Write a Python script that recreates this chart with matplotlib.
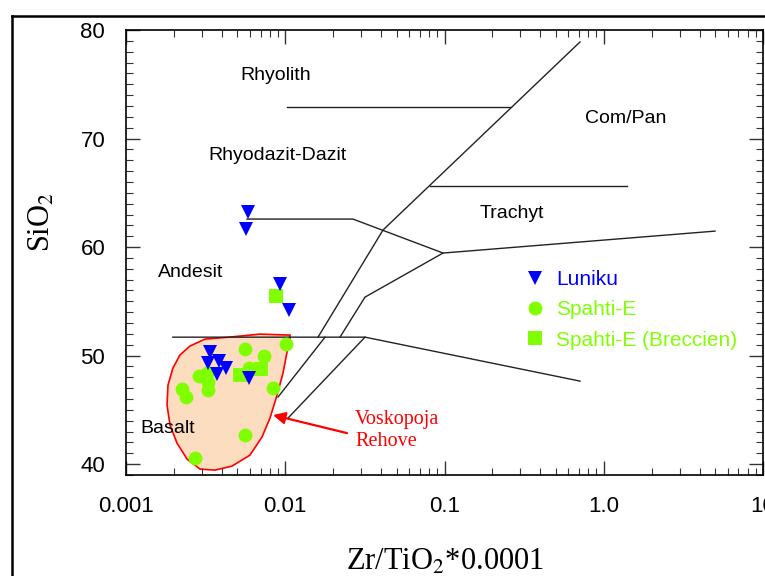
import matplotlib
matplotlib.use('Agg')
import matplotlib.pyplot as plt
from matplotlib.lines import Line2D
from matplotlib.patches import Polygon
from matplotlib.ticker import FixedLocator, FixedFormatter, LogLocator, NullFormatter, MultipleLocator

plt.rcParams['font.family'] = ['Liberation Sans', 'DejaVu Sans']
plt.rcParams['mathtext.fontset'] = 'stix'

# ---------------- data ----------------
luniku_x = [0.00583, 0.00567, 0.00927, 0.01056, 0.00337, 0.00384, 0.00327, 0.00425, 0.00373, 0.00592]
luniku_y = [63.2, 61.7, 56.6, 54.2, 50.3, 49.5, 49.3, 48.9, 48.3, 47.9]

spahti_x = [0.00559, 0.00735, 0.01011, 0.00592, 0.00287, 0.00323, 0.00327, 0.00327,
            0.00225, 0.00238, 0.00838, 0.00559, 0.00271]
spahti_y = [50.6, 50.0, 51.1, 48.9, 48.1, 48.4, 47.6, 46.8,
            46.9, 46.2, 47.0, 42.7, 40.6]

breccien_x = [0.0052, 0.00704, 0.00875]
breccien_y = [48.2, 48.8, 55.5]

# Voskopoja-Rehove field outline
field_x = [0.01071, 0.00694, 0.0045, 0.00313, 0.00252, 0.00218, 0.00197, 0.001835, 0.00181,
           0.00189, 0.00209, 0.00242, 0.00292, 0.00362, 0.00463, 0.0060, 0.00714, 0.00802,
           0.00888, 0.00968, 0.01026, 0.01071]
field_y = [51.89, 51.98, 51.71, 51.52, 50.88, 50.05, 48.85, 47.28, 45.44,
           43.59, 41.94, 40.46, 39.54, 39.45, 39.82, 40.83, 42.49, 44.24,
           46.36, 48.39, 50.32, 51.43]

# classification boundaries (Winchester & Floyd)
boundaries = [
    ([0.01026, 0.2578], [72.9, 72.9]),
    ([0.7096, 0.0411, 0.01606], [78.9, 61.57, 51.7]),
    ([0.01777, 0.009006], [51.7, 46.18]),
    ([0.0811, 1.40], [65.62, 65.62]),
    ([0.00575, 0.02663, 0.0979, 4.996], [62.58, 62.58, 59.45, 61.47]),
    ([0.0979, 0.03168, 0.02207], [59.45, 55.39, 51.7]),
    ([0.00197, 0.03168, 0.7096], [51.7, 51.7, 47.65]),
    ([0.03168, 0.0104], [51.7, 44.24]),
]

field_names = ["Rhyolith", "Rhyodazit-Dazit", "Andesit", "Basalt", "Com/Pan", "Trachyt"]
field_name_x = [0.0052, 0.00327, 0.001588, 0.001224, 0.7624, 0.1671]
field_name_y = [75.85, 68.48, 57.70, 43.32, 71.89, 63.13]

xticks = [0.001, 0.01, 0.1, 1.0, 10]
xticklabels = ["0.001", "0.01", "0.1", "1.0", "10"]
yticks = [40, 50, 60, 70, 80]

BLUE = '#0000FF'
GREEN = '#80FF00'
RED = '#FF0000'

# ---------------- figure ----------------
fig = plt.figure(figsize=(7.65, 5.76), dpi=100)
ax = fig.add_axes([126/765, 101/576, 637/765, 445/576])
ax.set_xscale('log')
ax.set_xlim(0.001, 10)
ax.set_ylim(39, 80)

# field polygon
poly = Polygon(list(zip(field_x, field_y)), closed=True, facecolor='#FDDDBF',
               edgecolor=RED, linewidth=1.2, zorder=1)
ax.add_patch(poly)

for bx, by in boundaries:
    ax.plot(bx, by, color='#222222', linewidth=1.0, zorder=2)

for name, tx, ty in zip(field_names, field_name_x, field_name_y):
    ax.text(tx, ty, name, ha='left', va='center', fontsize=14, color='black', zorder=3)

# arrow + annotation
ax.annotate('', xy=(0.00838, 44.52), xytext=(0.02442, 42.86),
            arrowprops=dict(arrowstyle='-|>', color=RED, lw=1.6, mutation_scale=18,
                            shrinkA=0, shrinkB=0), zorder=4)
ax.text(0.02742, 44.15, 'Voskopoja', ha='left', va='center', color=RED,
        fontsize=14.5, family=['Liberation Serif', 'DejaVu Serif'])
ax.text(0.02742, 42.12, 'Rehove', ha='left', va='center', color=RED,
        fontsize=14.5, family=['Liberation Serif', 'DejaVu Serif'])

# data points
ax.plot(spahti_x, spahti_y, linestyle='none', marker='o', markersize=10,
        color=GREEN, markeredgewidth=0, label='Spahti-E', zorder=5)
ax.plot(breccien_x, breccien_y, linestyle='none', marker='s', markersize=10,
        color=GREEN, markeredgewidth=0, label='Spahti-E (Breccien)', zorder=5)
ax.plot(luniku_x, luniku_y, linestyle='none', marker='v', markersize=10.5,
        color=BLUE, markeredgewidth=0, label='Luniku', zorder=6)

handles, labels = ax.get_legend_handles_labels()
order = [2, 0, 1]
leg = ax.legend([handles[i] for i in order], [labels[i] for i in order],
                loc='upper left', bbox_to_anchor=(0.6257, 0.461), frameon=False,
                fontsize=15, handlelength=1.0, handletextpad=0.5, labelspacing=0.55,
                borderpad=0, borderaxespad=0, numpoints=1)
for txt, col in zip(leg.get_texts(), [BLUE, GREEN, GREEN]):
    txt.set_color(col)

# ticks
ax.xaxis.set_major_locator(FixedLocator(xticks))
ax.xaxis.set_major_formatter(FixedFormatter(xticklabels))
ax.xaxis.set_minor_locator(LogLocator(base=10, subs=range(2, 10), numticks=20))
ax.xaxis.set_minor_formatter(NullFormatter())
ax.yaxis.set_major_locator(FixedLocator(yticks))
ax.yaxis.set_minor_locator(MultipleLocator(1))
ax.tick_params(which='both', direction='in', top=True, right=True, color='#333333')
ax.tick_params(which='major', length=10, width=1.0, labelsize=16, pad=15)
ax.tick_params(which='minor', length=5, width=0.8)
for sp in ax.spines.values():
    sp.set_linewidth(1.2)
    sp.set_color('black')

# axis labels
serif = ['Liberation Serif', 'DejaVu Serif']
fig.text(445/765, 1 - 570/576, r'Zr/TiO$_2$*0.0001', ha='center', va='baseline',
         fontsize=22, family=serif)
fig.text(42/765, 1 - 222/576, r'SiO$_2$', ha='center', va='center', rotation=90,
         fontsize=22, family=serif)

# outer frame
fig.add_artist(Line2D([12/765, 12/765], [0, 1 - 16/576], transform=fig.transFigure,
                      color='black', linewidth=1.8))
fig.add_artist(Line2D([12/765, 1.0], [1 - 16/576, 1 - 16/576], transform=fig.transFigure,
                      color='black', linewidth=1.8))

fig.savefig('out.png', dpi=100)
